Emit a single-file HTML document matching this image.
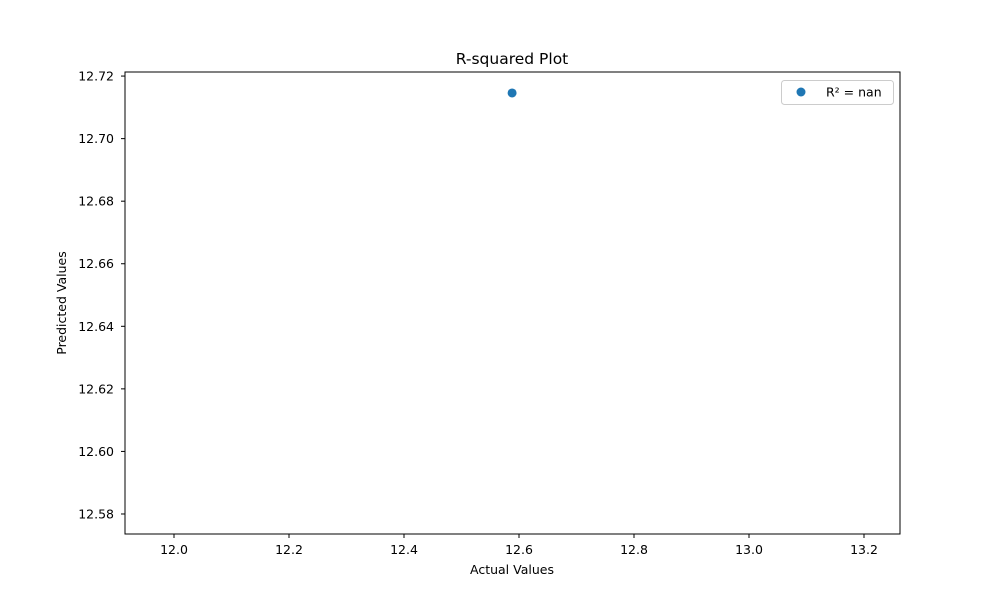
<!DOCTYPE html>
<html><head><meta charset="utf-8"><style>
body{margin:0;background:#fff;font-family:"DejaVu Sans","Liberation Sans",sans-serif;}
</style></head><body>
<svg id="chart" width="1000" height="600" xmlns="http://www.w3.org/2000/svg" font-family="DejaVu Sans, Liberation Sans, sans-serif">
<rect width="1000" height="600" fill="#fff"/>
<text x="512" y="64" text-anchor="middle" font-size="15.5">R-squared Plot</text>
<g id="plot"></g>
<rect x="125" y="72" width="775" height="462" fill="none" stroke="#000" stroke-width="1"/>
<text x="512" y="574" text-anchor="middle" font-size="12.5">Actual Values</text>
<text x="0" y="0" transform="translate(66,303) rotate(-90)" text-anchor="middle" font-size="12.5">Predicted Values</text>
<g>
<rect x="781.5" y="80.5" width="112" height="24" rx="3" fill="#fff" stroke="#ccc"/>
<circle cx="801" cy="92" r="4.5" fill="#1f77b4"/>
<text x="826" y="96.5" font-size="12.5">R² = nan</text>
</g>
</svg>
<script>
const actualValues = [12.588];
const predictedValues = [12.7146];
const xTicks = [12.0, 12.2, 12.4, 12.6, 12.8, 13.0, 13.2];
const yTicks = [12.58, 12.60, 12.62, 12.64, 12.66, 12.68, 12.70, 12.72];
const L=125,R=900,T=72,B=534;
const xMin=11.9148,xMax=13.2626,yMin=12.5736,yMax=12.7213;
const sx=v=>L+(v-xMin)/(xMax-xMin)*(R-L);
const sy=v=>B-(v-yMin)/(yMax-yMin)*(B-T);
const NS="http://www.w3.org/2000/svg";
const g=document.getElementById('plot');
function mk(t,a){const e=document.createElementNS(NS,t);for(const k in a)e.setAttribute(k,a[k]);g.appendChild(e);return e;}
xTicks.forEach(v=>{const x=sx(v);
 const l=mk('line',{x1:x,x2:x,y1:B,y2:B+4,stroke:'#000'});
 
 
 const t=mk('text',{x:x,y:B+20,'text-anchor':'middle','font-size':12.5});t.textContent=v.toFixed(1);
 
 
});
yTicks.forEach(v=>{const y=sy(v);
 const l=mk('line',{x1:L-4,x2:L,y1:y,y2:y,stroke:'#000'});
 
 
 const t=mk('text',{x:L-11,y:y+4.5,'text-anchor':'end','font-size':12.5});t.textContent=v.toFixed(2);
 
 
});
actualValues.forEach((v,i)=>{
 const c=mk('circle',{cx:sx(v),cy:sy(predictedValues[i]),r:4.5,fill:'#1f77b4'});
 
 
});
</script>
</body></html>
